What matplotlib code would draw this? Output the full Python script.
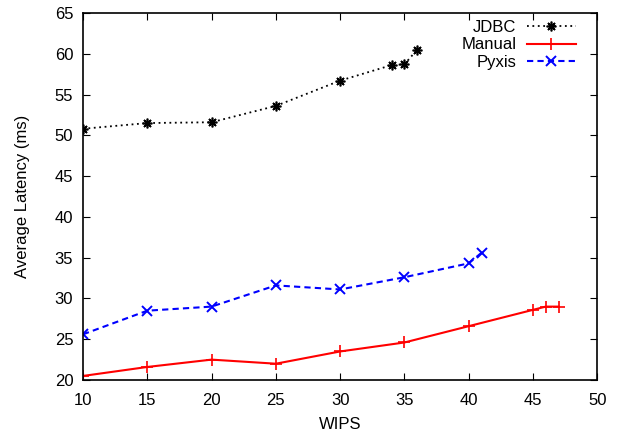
import matplotlib
matplotlib.use('Agg')
import matplotlib.pyplot as plt

plt.rcParams['font.family'] = ['Liberation Sans', 'DejaVu Sans']

jdbc_x = [10, 15, 20, 25, 30, 34, 35, 36]
jdbc_y = [50.8, 51.5, 51.6, 53.6, 56.7, 58.6, 58.7, 60.5]

manual_x = [10, 15, 20, 25, 30, 35, 40, 45, 46, 47]
manual_y = [20.5, 21.6, 22.5, 22.0, 23.5, 24.6, 26.6, 28.6, 29.0, 29.0]

pyxis_x = [10, 15, 20, 25, 30, 35, 40, 41]
pyxis_y = [25.6, 28.5, 29.0, 31.6, 31.1, 32.6, 34.3, 35.6]

fig = plt.figure(figsize=(6.21, 4.37), dpi=100)
ax = fig.add_axes([0.1337, 0.1304, 0.828, 0.840])

ax.plot(jdbc_x, jdbc_y, color='black', linestyle=(0, (1, 2)), linewidth=1.3,
        marker=(8, 2, 0), markersize=7, markeredgewidth=1.2, label='JDBC')
ax.plot(manual_x, manual_y, color='red', linestyle='-', linewidth=1.5,
        marker='+', markersize=8, markeredgewidth=1.2, label='Manual')
ax.plot(pyxis_x, pyxis_y, color='blue', linestyle=(0, (3, 2)), linewidth=1.5,
        marker='x', markersize=7, markeredgewidth=1.4, label='Pyxis')

ax.set_xlim(10, 50)
ax.set_ylim(20, 65)
ax.set_xticks(range(10, 51, 5))
ax.set_yticks(range(20, 66, 5))
ax.tick_params(direction='in', top=True, right=True, length=5, labelsize=12)
ax.tick_params(axis='x', pad=9)
ax.tick_params(axis='y', pad=7)
for s in ax.spines.values():
    s.set_linewidth(1.2)

ax.set_xlabel('WIPS', fontsize=12, labelpad=7)
ax.set_ylabel('Average Latency (ms)', fontsize=12, labelpad=18)

ax.legend(loc='upper right', bbox_to_anchor=(0.971, 1.0), frameon=False,
          markerfirst=False, fontsize=12, handlelength=2.9, labelspacing=0.17,
          borderaxespad=0, handletextpad=0.66)

fig.savefig('out.png', dpi=100)
